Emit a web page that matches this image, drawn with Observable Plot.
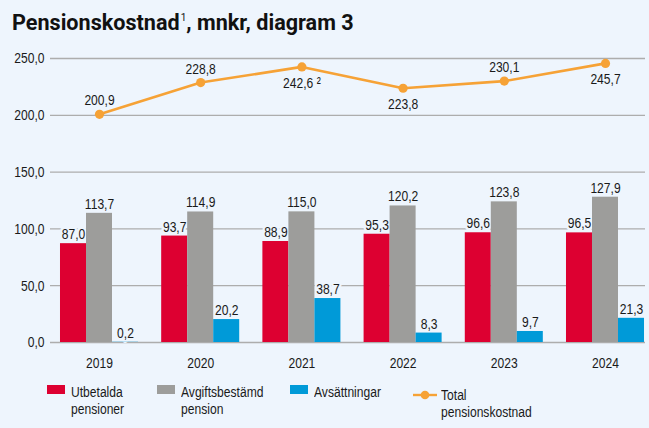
<!DOCTYPE html>
<html>
<head>
<meta charset="utf-8">
<script src="https://cdn.jsdelivr.net/npm/d3@7"></script>
<script src="https://cdn.jsdelivr.net/npm/@observablehq/plot@0.6"></script>
<style>
  html, body { margin: 0; padding: 0; background: #eef5fd; }
  #wrap { position: relative; width: 649px; height: 428px; background: #eef5fd; overflow: hidden;
    font-family: "Liberation Sans", Arial, sans-serif; color: #1a1a1a; }
  #title { box-sizing: border-box; height: 45px; padding: 12px 0 0 12px; font-family: Roboto, "Liberation Sans", sans-serif;
    font-weight: bold; font-size: 21.6px; line-height: 21px; color: #111; white-space: nowrap; }
  #title sup { font-size: 10px; font-weight: normal; vertical-align: 0; position: relative; top: -9px; margin-left: 1px; }
  #chart svg { display: block; }
  .leg { position: absolute; font-size: 15.5px; line-height: 16.5px; color: #1a1a1a; white-space: nowrap;
    transform: scaleX(0.78); transform-origin: left top; }
  .sw { position: absolute; width: 18px; height: 9px; }
</style>
</head>
<body>
<div id="wrap">
  <div id="title">Pensionskostnad<sup>1</sup>, mnkr, diagram 3</div>
  <div id="chart"></div>
  <div id="legend"></div>
</div>
<script>
const years = ["2019", "2020", "2021", "2022", "2023", "2024"];
const utbetalda = [87.0, 93.7, 88.9, 95.3, 96.6, 96.5];
const avgiftsbestamd = [113.7, 114.9, 115.0, 120.2, 123.8, 127.9];
const avsattningar = [0.2, 20.2, 38.7, 8.3, 9.7, 21.3];
const total = [200.9, 228.8, 242.6, 223.8, 230.1, 245.7];
const totalLabelSide = ["above", "above", "below", "below", "above", "below"];
const totalNotes = ["", "", " ²", "", "", ""];
const seriesNames = ["Utbetalda\npensioner", "Avgiftsbestämd\npension", "Avsättningar"];
const lineName = "Total\npensionskostnad";
const seriesColors = ["#dd0031", "#9d9d9b", "#009ad8"];
const lineColor = "#f6a236";
const yTicks = [0, 50, 100, 150, 200, 250];

const bg = "#eef5fd";
const fmt = v => v.toFixed(1).replace(".", ",");
const barW = 0.257;
const fs = 15.5;
const squeeze = 0.78;

const seriesValues = [utbetalda, avgiftsbestamd, avsattningar];
const bars = [];
seriesValues.forEach((vals, k) => {
  vals.forEach((v, i) => {
    const c = i + (k - 1) * barW;
    bars.push({i, k, value: v, x1: c - barW / 2, x2: c + barW / 2, xc: c, series: seriesNames[k]});
  });
});
const totals = total.map((v, i) => ({i, value: v, side: totalLabelSide[i], label: fmt(v) + totalNotes[i]}));

const barLabel = {x: "xc", y: "value", text: d => fmt(d.value), lineAnchor: "bottom", dy: -4.5, fontSize: fs};

const chart = Plot.plot({
  width: 649,
  height: 330,
  marginLeft: 50,
  marginRight: 4,
  marginTop: 13,
  marginBottom: 33,
  style: {background: bg, fontFamily: '"Liberation Sans", Arial, sans-serif', fontSize: fs + "px", color: "#1a1a1a"},
  x: {type: "linear", domain: [-0.5, 5.5], range: [48.4, 655.6]},
  y: {domain: [0, 250]},
  marks: [
    Plot.ruleY(yTicks, {stroke: "#adadad", strokeWidth: 1.3}),
    Plot.axisY({ticks: yTicks, tickSize: 0, tickPadding: 6, tickFormat: fmt, label: null, fontSize: fs}),
    Plot.axisX({ticks: d3.range(years.length), tickSize: 0, tickPadding: 14, tickFormat: i => years[i], label: null, fontSize: fs}),
    // halo behind labels masks gridlines only (drawn before bars)
    Plot.text(bars, {...barLabel, fill: bg, stroke: bg, strokeWidth: 6}),
    Plot.rectY(bars, {x1: "x1", x2: "x2", y1: 0, y2: "value", fill: d => seriesColors[d.k]}),
    Plot.text(bars, {...barLabel, fill: "#1a1a1a"}),
    Plot.line(totals, {x: "i", y: "value", stroke: lineColor, strokeWidth: 2.6}),
    Plot.dot(totals, {x: "i", y: "value", r: 4.6, fill: lineColor, stroke: null}),
    Plot.text(totals.filter(d => d.side === "above"), {x: "i", y: "value", text: "label", lineAnchor: "bottom", dy: -9,
      fontSize: fs, fill: "#1a1a1a"}),
    Plot.text(totals.filter(d => d.side === "below"), {x: "i", y: "value", text: "label", lineAnchor: "top", dy: 10,
      fontSize: fs, fill: "#1a1a1a"})
  ]
});
// narrow the glyphs (condensed look like the reference) around each text's own anchor
chart.querySelectorAll("text").forEach(t => {
  const tr = t.getAttribute("transform");
  if (tr) t.setAttribute("transform", tr + ` scale(${squeeze},1)`);
  else {
    const x = +(t.getAttribute("x") || 0);
    t.setAttribute("transform", `translate(${x},0) scale(${squeeze},1) translate(${-x},0)`);
  }
});
document.getElementById("chart").appendChild(chart);

// Legend (HTML, below the SVG)
const legend = document.getElementById("legend");
const legItems = [
  {sx: 47, tx: 71, color: seriesColors[0], text: seriesNames[0]},
  {sx: 157, tx: 181, color: seriesColors[1], text: seriesNames[1]},
  {sx: 290, tx: 314, color: seriesColors[2], text: seriesNames[2]}
];
legItems.forEach(it => {
  const s = document.createElement("div");
  s.className = "sw";
  s.style.left = it.sx + "px"; s.style.top = "385px"; s.style.background = it.color;
  legend.appendChild(s);
  const t = document.createElement("div");
  t.className = "leg";
  t.style.left = it.tx + "px"; t.style.top = "384px";
  t.innerHTML = it.text.split("\n").join("<br>");
  legend.appendChild(t);
});
const ls = document.createElementNS("http://www.w3.org/2000/svg", "svg");
ls.setAttribute("width", 26); ls.setAttribute("height", 12);
ls.style.position = "absolute"; ls.style.left = "412px"; ls.style.top = "389px";
ls.innerHTML = `<line x1="1" x2="25" y1="6" y2="6" stroke="${lineColor}" stroke-width="2.4"/><circle cx="13" cy="6" r="4.3" fill="${lineColor}"/>`;
legend.appendChild(ls);
const lt = document.createElement("div");
lt.className = "leg";
lt.style.left = "441px"; lt.style.top = "387px";
lt.innerHTML = lineName.split("\n").join("<br>");
legend.appendChild(lt);
</script>
</body>
</html>
